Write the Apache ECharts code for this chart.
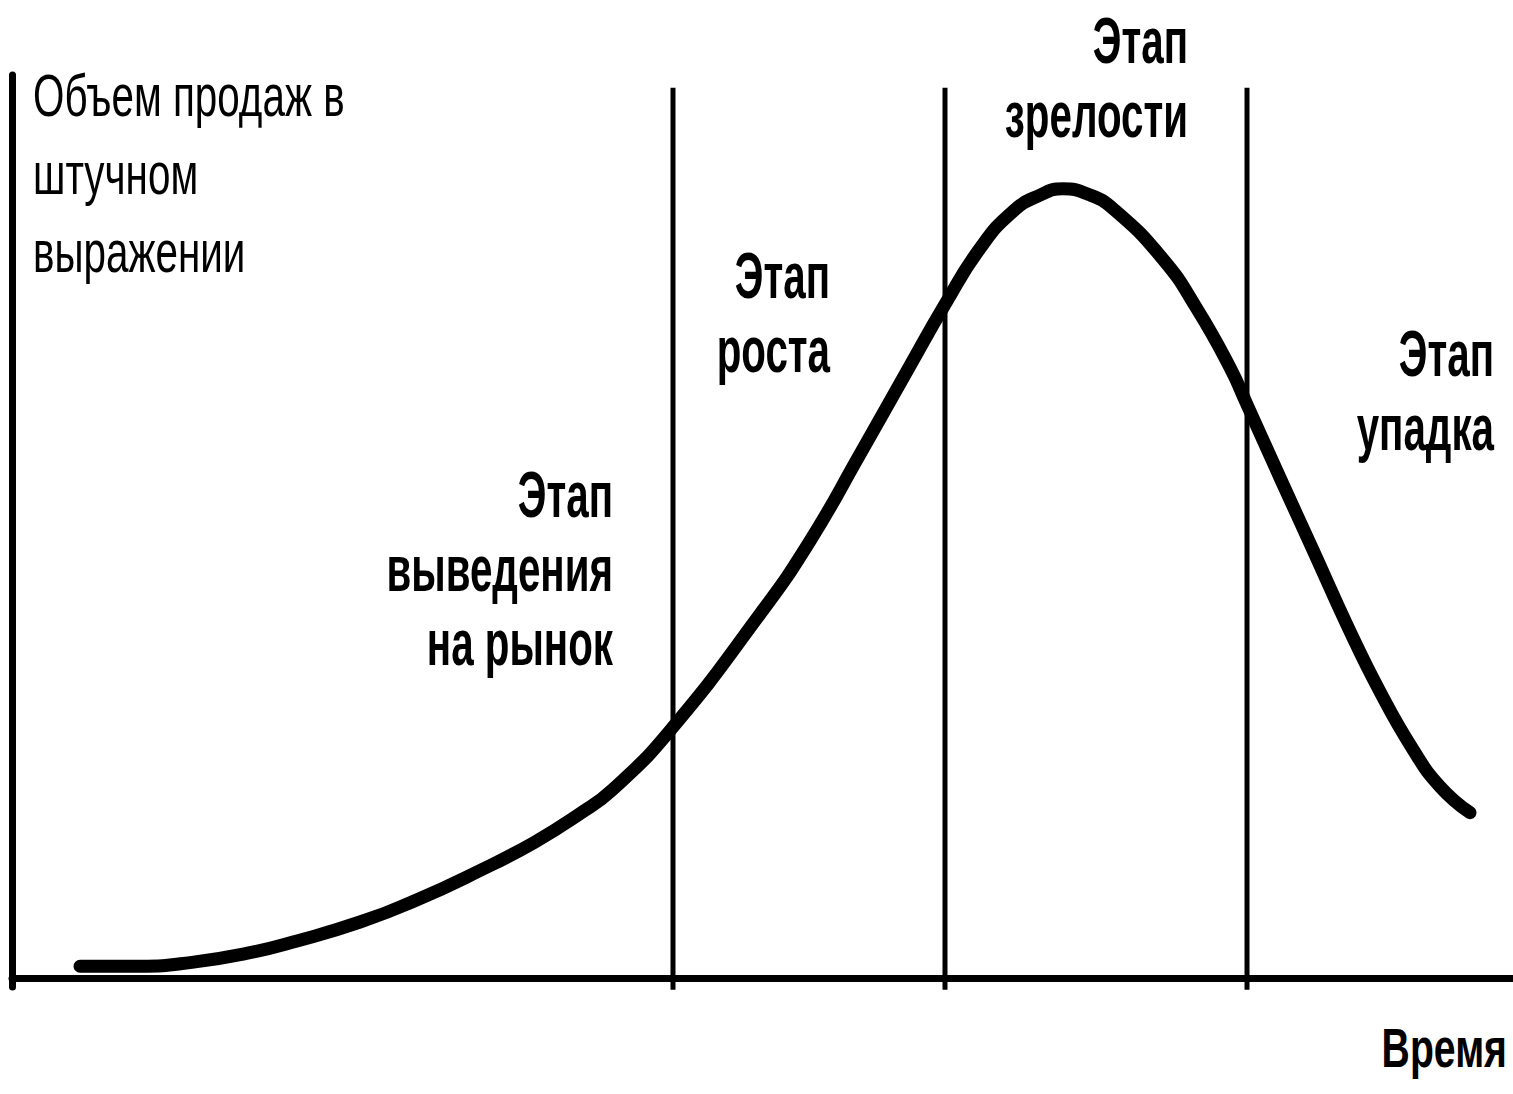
<!DOCTYPE html>
<html>
<head>
<meta charset="utf-8">
<script src="https://cdn.jsdelivr.net/npm/echarts@6/dist/echarts.min.js"></script>
<style>
    html, body { margin: 0; padding: 0; background: #fff; }
    #main { width: 1513px; height: 1094px; }
</style>
</head>
<body>
<div id="main"></div>
<script>
// кривая жизненного цикла товара (время, объем продаж)
const timeX = [6.8, 12.8, 17.8, 23.8, 28.5, 34.8, 40.4, 46.8, 52.2, 56.8, 60.1, 65.8,
    74.8, 79.8, 84.8, 89.8, 93.3, 96.8, 100.1, 102.8, 105.1, 107.6, 110.1, 115.1, 118.5, 121.8,
    123.5, 126.8, 130.1, 133.5, 136.8, 140.1, 142.8, 145.8];
const salesY = [1.3, 1.3, 1.7, 2.8, 4.1, 6.2, 8.6, 11.9, 15.0, 18.2, 20.9, 27.4,
    40.3, 48.4, 58.0, 67.8, 74.6, 80.8, 84.9, 86.7, 87.4, 86.8, 85.2, 79.6, 74.1, 67.6,
    63.5, 55.4, 47.4, 39.1, 31.7, 25.3, 21.2, 18.3];

// границы этапов
const stageBounds = [66.1, 93.3, 123.5];
const boundTop = 98.6;
const boundBottom = -1.3;

// подписи
const stageLabels = [
    ['Этап', 'выведения', 'на рынок'],
    ['Этап', 'роста'],
    ['Этап', 'зрелости'],
    ['Этап', 'упадка']
];
const yName = ['Объем продаж в', 'штучном', 'выражении'];
const xName = 'Время';

const chart = echarts.init(document.getElementById('main'), null, { renderer: 'svg' });

const curve = timeX.map((x, i) => [x, salesY[i]]);

// вертикальные линии этапов
const boundSeries = stageBounds.map(x => ({
    type: 'line',
    data: [[x, boundTop], [x, boundBottom]],
    symbol: 'none',
    clip: false,
    silent: true,
    lineStyle: { color: '#000', width: 5 },
    z: 2
}));

// позиции подписей (правый край, верх блока)
const stagePos = [[613, 458], [830, 239], [1188, 4], [1494, 317]];
const FONT = '"Liberation Sans", Arial, sans-serif';

const graphics = stageLabels.map((lines, i) => ({
    type: 'text',
    x: stagePos[i][0],
    y: stagePos[i][1],
    scaleX: 0.63,
    style: {
        text: lines.join('\n'),
        font: 'bold 64px ' + FONT,
        lineHeight: 74,
        align: 'right',
        verticalAlign: 'top',
        fill: '#000'
    }
}));

graphics.push({
    type: 'text',
    x: 33,
    y: 57,
    scaleX: 0.685,
    style: {
        text: yName.join('\n'),
        font: '59px ' + FONT,
        lineHeight: 78,
        align: 'left',
        verticalAlign: 'top',
        fill: '#000'
    }
});

graphics.push({
    type: 'text',
    x: 1507,
    y: 1047.6,
    scaleX: 0.7,
    style: {
        text: xName,
        font: 'bold 56px ' + FONT,
        align: 'right',
        verticalAlign: 'middle',
        fill: '#000'
    }
});

const option = {
    backgroundColor: '#fff',
    animation: false,
    grid: { left: 12, right: 1, top: 75, bottom: 107 },
    xAxis: {
        type: 'value',
        min: 0,
        max: 150,
        axisLine: { show: true, onZero: true, lineStyle: { color: '#000', width: 7 } },
        axisTick: { show: false },
        axisLabel: { show: false },
        splitLine: { show: false }
    },
    yAxis: {
        type: 'value',
        min: -1,
        max: 100,
        axisLine: { show: true, lineStyle: { color: '#000', width: 7 } },
        axisTick: { show: false },
        axisLabel: { show: false },
        splitLine: { show: false }
    },
    series: [
        {
            type: 'line',
            data: curve,
            smooth: true,
            symbol: 'none',
            clip: false,
            lineStyle: { color: '#000', width: 13, cap: 'round', join: 'round' },
            z: 3
        }
    ].concat(boundSeries),
    graphic: graphics
};

chart.setOption(option);
</script>
</body>
</html>
